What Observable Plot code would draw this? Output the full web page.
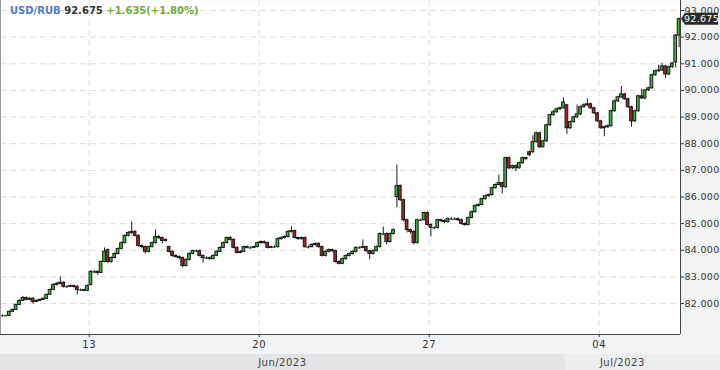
<!DOCTYPE html>
<html><head><meta charset="utf-8">
<script src="https://cdn.jsdelivr.net/npm/d3@7"></script>
<script src="https://cdn.jsdelivr.net/npm/@observablehq/plot@0.6"></script>
<style>
html,body{margin:0;padding:0;background:#f2f3f4;}
#wrap{position:relative;width:720px;height:370px;overflow:hidden;}
#title{position:absolute;left:10px;top:5px;font:bold 10px "DejaVu Sans",sans-serif;white-space:nowrap;letter-spacing:0px;}
#title .sym{color:#4f7cc9;}
#title .px{color:#333;}
#title .chg{color:#6aad3d;}
</style></head><body>
<div id="wrap"><div id="chart"></div>
<div id="title"><span class="sym">USD/RUB</span> <span class="px">92.675</span> <span class="chg">+1.635(+1.80%)</span></div>
</div>
<script>
// ---- data (hourly candles, USD/RUB) ----
const open = [
81.54,81.54,81.54,81.69,81.76,81.95,82.10,82.21,82.14,82.18,
82.06,82.10,82.14,82.18,82.33,82.51,82.70,82.74,82.78,82.63,
82.63,82.66,82.63,82.51,82.51,82.48,82.70,83.19,83.19,83.15,
83.56,84.01,83.56,83.71,83.86,84.05,84.27,84.54,84.65,84.69,
84.54,84.16,84.12,83.94,84.12,84.27,84.50,84.46,84.35,84.12,
83.94,83.79,83.75,83.71,83.41,83.64,83.86,83.97,83.97,83.79,
83.71,83.71,83.67,83.79,83.94,84.09,84.27,84.46,84.39,84.09,
83.90,83.94,84.12,84.09,84.09,84.12,84.27,84.31,84.27,84.09,
84.12,84.12,84.42,84.46,84.50,84.69,84.72,84.46,84.42,84.46,
84.12,84.12,84.20,84.24,84.12,83.79,83.94,84.01,83.97,83.56,
83.49,83.67,83.79,83.86,83.94,84.09,84.09,84.12,83.97,83.86,
83.97,84.12,84.61,84.61,84.31,84.61,86.00,86.41,85.88,85.13,
84.76,84.69,84.27,85.13,85.13,85.40,84.95,84.84,84.84,85.13,
85.10,85.06,85.17,85.17,85.17,85.13,84.99,84.95,85.21,85.43,
85.66,85.70,85.92,86.03,86.07,86.33,86.45,86.52,86.37,87.46,
87.08,87.16,87.08,87.27,87.46,87.68,87.68,88.06,88.39,87.87,
88.09,88.69,89.07,89.18,89.29,89.33,89.44,88.58,88.81,88.99,
89.10,89.37,89.44,89.48,89.33,89.14,88.84,88.58,88.62,88.66,
89.22,89.59,89.74,89.85,89.67,89.37,88.84,89.22,89.78,89.70,
90.00,90.08,90.57,90.72,90.75,90.90,90.60,90.87,91.05,92.06];
const high = [
81.58,81.57,81.72,81.80,81.98,82.14,82.27,82.25,82.22,82.22,
82.14,82.17,82.22,82.36,82.55,82.74,82.80,83.00,82.82,82.68,
82.70,82.69,82.66,82.55,82.54,82.70,83.24,83.24,83.22,83.60,
84.09,84.05,83.75,83.90,84.09,84.31,84.58,84.70,85.06,84.74,
84.58,84.20,84.16,84.16,84.31,84.76,84.55,84.50,84.43,84.16,
83.98,83.83,83.79,83.75,83.68,83.90,84.01,84.01,84.01,83.83,
83.76,83.75,83.83,83.98,84.13,84.31,84.50,84.52,84.43,84.13,
83.98,84.16,84.16,84.13,84.16,84.31,84.35,84.35,84.31,84.16,
84.16,84.46,84.50,84.54,84.73,84.87,84.76,84.50,84.50,84.50,
84.16,84.24,84.28,84.28,84.16,83.98,84.05,84.05,84.01,83.60,
83.71,83.83,83.90,83.98,84.13,84.13,84.39,84.16,84.01,84.01,
84.16,84.65,84.87,84.65,84.65,84.80,87.20,86.45,85.92,85.17,
84.80,84.73,85.17,85.17,85.44,85.44,84.99,84.88,85.17,85.17,
85.14,85.21,85.24,85.22,85.21,85.17,85.03,85.25,85.47,85.70,
85.74,85.96,86.07,86.11,86.37,86.49,86.82,86.56,87.50,87.50,
87.20,87.20,87.31,87.50,87.50,87.72,88.30,88.44,88.43,88.13,
88.73,89.11,89.24,89.33,89.37,89.72,89.48,88.85,89.03,89.45,
89.41,89.50,89.68,89.52,89.37,89.18,88.88,88.66,88.70,89.26,
89.63,89.78,90.15,89.89,89.71,89.41,89.26,89.82,90.05,90.04,
90.12,90.61,90.76,90.95,91.02,90.94,90.91,91.05,92.10,92.72];
const low = [
81.50,81.51,81.52,81.66,81.74,81.92,82.08,82.10,82.11,81.98,
82.03,82.08,82.12,82.16,82.30,82.49,82.66,82.70,82.58,82.58,
82.60,82.58,82.33,82.46,82.44,82.45,82.66,83.12,83.06,83.12,
83.53,83.50,83.52,83.68,83.83,84.02,84.24,84.50,84.61,84.50,
84.12,84.05,83.86,83.90,84.09,84.24,84.40,84.24,84.31,83.90,
83.74,83.70,83.64,83.34,83.38,83.60,83.83,83.92,83.75,83.52,
83.66,83.62,83.64,83.76,83.91,84.06,84.24,84.35,84.05,83.86,
83.87,83.91,84.05,84.04,84.06,84.09,84.23,84.23,84.05,84.06,
84.08,84.09,84.38,84.42,84.46,84.65,84.42,84.38,84.38,84.08,
84.05,84.09,84.16,84.08,83.75,83.75,83.90,83.92,83.52,83.45,
83.46,83.62,83.75,83.82,83.90,84.05,84.06,83.93,83.64,83.82,
83.94,84.09,84.55,84.20,84.27,84.58,85.60,85.84,85.06,84.65,
84.61,84.20,84.24,85.08,85.10,84.91,84.50,84.78,84.80,85.04,
85.00,85.02,85.12,85.12,85.08,84.95,84.90,84.92,85.18,85.40,
85.62,85.67,85.88,86.00,86.04,86.30,86.42,86.12,86.33,87.02,
87.04,86.95,87.05,87.23,87.38,87.52,87.64,88.02,87.82,87.84,
88.06,88.65,89.03,89.14,89.25,89.30,88.35,88.54,88.77,88.95,
89.06,89.33,89.40,89.29,89.10,88.80,88.54,88.26,88.58,88.62,
89.18,89.55,89.70,89.63,89.33,88.62,88.80,89.18,89.66,89.66,
89.96,90.04,90.53,90.68,90.71,90.45,90.56,90.83,90.85,91.60];
const close = [
81.54,81.54,81.69,81.76,81.95,82.10,82.21,82.14,82.18,82.06,
82.10,82.14,82.18,82.33,82.51,82.70,82.74,82.78,82.63,82.63,
82.66,82.63,82.51,82.51,82.48,82.66,83.19,83.19,83.15,83.56,
83.94,83.56,83.71,83.86,84.05,84.27,84.54,84.65,84.69,84.54,
84.16,84.12,83.94,84.12,84.27,84.50,84.46,84.35,84.39,83.94,
83.79,83.75,83.71,83.41,83.64,83.86,83.97,83.97,83.79,83.71,
83.71,83.67,83.79,83.94,84.09,84.27,84.46,84.39,84.09,83.90,
83.94,84.12,84.09,84.09,84.12,84.27,84.31,84.27,84.09,84.12,
84.12,84.42,84.46,84.50,84.69,84.72,84.46,84.42,84.46,84.12,
84.12,84.20,84.24,84.12,83.79,83.94,84.01,83.97,83.56,83.49,
83.67,83.79,83.86,83.94,84.09,84.09,84.12,83.97,83.86,83.97,
84.12,84.61,84.61,84.31,84.61,84.76,86.41,85.88,85.13,84.76,
84.69,84.27,85.13,85.13,85.40,84.95,84.84,84.84,85.13,85.10,
85.06,85.17,85.17,85.17,85.13,84.99,84.95,85.21,85.43,85.66,
85.70,85.92,86.03,86.07,86.33,86.45,86.52,86.37,87.46,87.08,
87.16,87.08,87.27,87.46,87.42,87.57,88.06,88.39,87.87,88.09,
88.69,89.07,89.18,89.29,89.33,89.55,88.58,88.81,88.99,89.10,
89.37,89.44,89.48,89.33,89.14,88.84,88.58,88.62,88.66,89.22,
89.59,89.74,89.85,89.67,89.37,88.84,89.22,89.78,89.70,90.00,
90.08,90.57,90.72,90.75,90.90,90.60,90.87,91.01,92.06,92.675];

// axis ticks / labels
const yTicks = [82, 83, 84, 85, 86, 87, 88, 89, 90, 91, 92, 93];
const xTickIdx = [25.5, 75.5, 125.5, 175.5];           // day-start positions (candle index)
const xTickLabels = ["13", "20", "27", "04"];
const monthLabels = ["Jun/2023", "Jul/2023"];
const monthStart = [-0.59, 165.5];
const monthEnd = [165.5, 199.41];
const lastPrice = 92.675;

// ---- build table ----
const candles = close.map((c, i) => ({i, open: open[i], high: high[i], low: low[i], close: c}));
const bodies = candles.filter(d => Math.abs(d.close - d.open) > 0.001);
const dojis = candles.filter(d => Math.abs(d.close - d.open) <= 0.001);
const months = monthLabels.map((m, k) => ({label: m, x1: monthStart[k], x2: monthEnd[k]}));

const xDomain = [-0.59, 199.41];
const yDomain = [80.84, 93.375];
const font = '"DejaVu Sans", sans-serif';

const chart = Plot.plot({
  width: 720, height: 370,
  marginLeft: 0, marginRight: 40, marginTop: 0, marginBottom: 36,
  style: {background: "#f2f3f4", fontFamily: font, fontSize: "9.5px", color: "#333", overflow: "visible"},
  x: {domain: xDomain, ticks: xTickIdx, tickFormat: d => xTickLabels[xTickIdx.indexOf(d)], tickSize: 3, tickPadding: 3, label: null},
  y: {domain: yDomain, axis: "right", ticks: yTicks, tickFormat: d3.format(".3f"), tickSize: 3, tickPadding: 1, label: null},
  color: {type: "identity"},
  marks: [
    Plot.frame({fill: "white", stroke: null}),
    Plot.ruleY(yTicks, {stroke: "#dcdcdc", strokeDasharray: "6,4"}),
    Plot.ruleX(xTickIdx, {stroke: "#dcdcdc", strokeDasharray: "6,4"}),
    Plot.ruleX(candles, {x: "i", y1: "low", y2: "high", stroke: "#1a1a1a", strokeWidth: 1}),
    Plot.rect(bodies, {
      x1: d => d.i - 0.4, x2: d => d.i + 0.4, y1: "open", y2: "close",
      fill: d => d.close > d.open ? "#3cb43c" : "#a3242a",
      stroke: "#1a1a1a", strokeWidth: 1
    }),
    Plot.ruleY(dojis, {y: "close", x1: d => d.i - 0.5, x2: d => d.i + 0.5, stroke: "#1a1a1a", strokeWidth: 1}),
    Plot.ruleX([xDomain[0]], {stroke: "#999"}),
    Plot.ruleX([xDomain[1]], {stroke: "#444"}),
    Plot.ruleY([yDomain[0]], {stroke: "#444"})
  ]
});
document.getElementById("chart").appendChild(chart);

// ---- decorations using the plot's scales ----
const sx = chart.scale("x"), sy = chart.scale("y");
const svg = d3.select(chart);
const bandTop = 354, bandBot = 370;
const bands = svg.insert("g", ":first-child");
bands.append("rect").attr("x", 0).attr("y", bandTop).attr("width", 720).attr("height", bandBot - bandTop).attr("fill", "#ecedee");
months.forEach((m, k) => {
  const a = Math.max(0, sx.apply(m.x1)), b = sx.apply(m.x2);
  if (k === 0) bands.append("rect").attr("x", a).attr("y", bandTop).attr("width", b - a).attr("height", bandBot - bandTop).attr("fill", "#e3e4e5");
  svg.append("text").attr("x", (a + b) / 2).attr("y", 362).attr("dy", "0.35em")
    .attr("text-anchor", "middle").attr("fill", "#444").style("font", "10px " + font).style("letter-spacing", "0.5px").text(m.label);
});
svg.selectAll("g[aria-label='x-axis tick label'] text").style("letter-spacing", "0.5px").style("font-size", "10px");
svg.selectAll("g[aria-label='y-axis tick label'] text").style("letter-spacing", "0.3px");

// last price tag
const yp = sy.apply(lastPrice);
const xr = sx.apply(xDomain[1]);
svg.append("path").attr("d", `M${xr + 1},${yp} L${xr + 5},${yp - 6} L${xr + 38},${yp - 6} L${xr + 38},${yp + 6} L${xr + 5},${yp + 6} Z`).attr("fill", "#2b2b2b");
svg.append("text").attr("x", xr + 21.5).attr("y", yp).attr("dy", "0.35em").attr("text-anchor", "middle")
  .attr("fill", "#fff").style("font", "9.5px " + font).style("letter-spacing", "0.3px").text(d3.format(".3f")(lastPrice));
</script>
</body></html>
